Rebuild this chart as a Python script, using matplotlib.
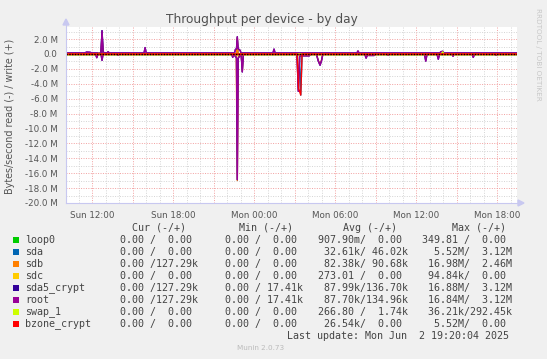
import matplotlib
matplotlib.use('Agg')
import matplotlib.pyplot as plt
from matplotlib.patches import Rectangle, Polygon
import numpy as np

W, H = 547, 359
T0, T1 = 10.07, 43.48   # hours since Sun 00:00

# ---- data (MB/s), hours since Sun 00:00; read is drawn negative ----
names = ['loop0', 'sda', 'sdb', 'sdc', 'sda5_crypt', 'root', 'swap_1', 'bzone_crypt']
colors = ['#00CC00', '#0066B3', '#FF8000', '#FFCC00', '#330099', '#990099', '#CCFF00', '#FF0000']

loop0_w_t, loop0_w = [], []
loop0_r_t, loop0_r = [], []

sda_w_t = [12.66, 12.74, 12.82, 22.7, 22.76, 22.82]
sda_w = [0.0, 3.12, 0.0, 0.0, 1.2, 0.0]
sda_r_t = [27.36, 27.46, 27.56]
sda_r = [0.0, 5.52, 0.0]

sdb_w_t = [12.66, 12.74, 12.82, 22.7, 22.76, 22.82]
sdb_w = [0.05, 2.46, 0.05, 0.05, 2.2, 0.05]
sdb_r_t = [22.68, 22.76, 22.84, 23.05, 23.13, 23.21, 27.18, 27.28, 27.38,
           28.62, 28.75, 28.89, 29.0, 29.1]
sdb_r = [0.0, 16.98, 0.0, 0.0, 2.3, 0.0, 0.0, 4.8, 0.0,
         0.0, 0.8, 1.4, 0.8, 0.0]

sdc_w_t, sdc_w = [], []
sdc_r_t = [36.64, 36.72, 36.8]
sdc_r = [0.0, 0.09, 0.0]

root_base_w = 0.13
root_w_t = [11.45, 11.6, 11.85, 12.0, 12.66, 12.74, 12.82, 13.1, 13.19, 13.28,
            15.85, 15.93, 16.01, 22.55, 22.62, 22.7, 22.76, 22.82, 22.96, 23.04,
            25.4, 25.48, 25.56, 31.62, 31.7, 31.78, 37.75, 37.85, 37.98, 38.06]
root_w = [0.13, 0.25, 0.22, 0.13, 0.13, 3.12, 0.2, 0.13, 0.3, 0.13,
          0.13, 0.85, 0.13, 0.13, 0.6, 0.7, 2.3, 0.7, 0.5, 0.13,
          0.13, 0.65, 0.13, 0.13, 0.4, 0.13, 0.13, 0.3, 0.35, 0.13]
root_r_t = [12.25, 12.35, 12.45, 12.66, 12.74, 12.82, 13.85, 13.93, 14.01,
            22.34, 22.42, 22.5, 22.6, 22.7, 22.76, 22.82, 22.96, 23.05, 23.13, 23.21,
            27.18, 27.28, 27.38, 27.5, 28.1, 28.18, 28.62, 28.75, 28.89, 29.0, 29.1,
            32.2, 32.3, 32.4, 32.5, 32.9, 33.0, 33.85, 33.93, 34.01,
            36.62, 36.72, 36.82, 37.55, 37.65, 37.75, 38.66, 38.74, 38.82,
            40.14, 40.24, 40.34, 41.85, 41.93, 42.01]
root_r = [0.0, 0.5, 0.0, 0.0, 0.85, 0.0, 0.0, 0.15, 0.0,
          0.0, 0.45, 0.0, 0.3, 0.5, 16.84, 0.6, 0.2, 0.2, 2.4, 0.0,
          0.0, 5.0, 0.3, 0.25, 0.25, 0.0, 0.0, 0.9, 1.5, 0.9, 0.0,
          0.0, 0.55, 0.15, 0.2, 0.2, 0.0, 0.0, 0.15, 0.0,
          0.0, 0.95, 0.0, 0.0, 0.7, 0.0, 0.0, 0.3, 0.0,
          0.0, 0.45, 0.0, 0.0, 0.15, 0.0]

sda5_w_t = root_w_t
sda5_w = [0.14, 0.26, 0.23, 0.14, 0.14, 3.12, 0.21, 0.14, 0.31, 0.14,
          0.14, 0.86, 0.14, 0.14, 0.61, 0.71, 2.32, 0.71, 0.51, 0.14,
          0.14, 0.66, 0.14, 0.14, 0.41, 0.14, 0.14, 0.31, 0.36, 0.14]
sda5_r_t = root_r_t
sda5_r = [0.0, 0.5, 0.0, 0.0, 0.86, 0.0, 0.0, 0.15, 0.0,
          0.0, 0.46, 0.0, 0.3, 0.5, 16.88, 0.6, 0.2, 0.2, 2.42, 0.0,
          0.0, 5.02, 0.3, 0.25, 0.25, 0.0, 0.0, 0.9, 1.52, 0.9, 0.0,
          0.0, 0.56, 0.15, 0.2, 0.2, 0.0, 0.0, 0.15, 0.0,
          0.0, 0.96, 0.0, 0.0, 0.71, 0.0, 0.0, 0.3, 0.0,
          0.0, 0.46, 0.0, 0.0, 0.15, 0.0]

swap_w_t = [12.42, 12.5, 12.58, 37.9, 37.98, 38.06]
swap_w = [0.0, 0.1, 0.0, 0.0, 0.29, 0.0]
swap_r_t, swap_r = [], []

bzone_w_t, bzone_w = [], []
bzone_r_t = [27.2, 27.3, 27.46, 27.56]
bzone_r = [0.0, 4.6, 5.52, 0.0]

series = [
    (loop0_w_t, loop0_w, loop0_r_t, loop0_r, 0.0),
    (sda_w_t, sda_w, sda_r_t, sda_r, 0.0),
    (sdb_w_t, sdb_w, sdb_r_t, sdb_r, 0.05),
    (sdc_w_t, sdc_w, sdc_r_t, sdc_r, 0.0),
    (sda5_w_t, sda5_w, sda5_r_t, sda5_r, 0.14),
    (root_w_t, root_w, root_r_t, root_r, root_base_w),
    (swap_w_t, swap_w, swap_r_t, swap_r, 0.0),
    (bzone_w_t, bzone_w, bzone_r_t, bzone_r, 0.0),
]

cur = ['  0.00 /  0.00 ', '  0.00 /  0.00 ', '  0.00 /127.29k', '  0.00 /  0.00 ',
       '  0.00 /127.29k', '  0.00 /127.29k', '  0.00 /  0.00 ', '  0.00 /  0.00 ']
mins = ['  0.00 /  0.00 ', '  0.00 /  0.00 ', '  0.00 /  0.00 ', '  0.00 /  0.00 ',
        '  0.00 / 17.41k', '  0.00 / 17.41k', '  0.00 /  0.00 ', '  0.00 /  0.00 ']
avgs = ['907.90m/  0.00 ', ' 32.61k/ 46.02k', ' 82.38k/ 90.68k', '273.01 /  0.00 ',
        ' 87.99k/136.70k', ' 87.70k/134.96k', '266.80 /  1.74k', ' 26.54k/  0.00 ']
maxs = ['349.81 /  0.00 ', '  5.52M/  3.12M', ' 16.98M/  2.46M', ' 94.84k/  0.00 ',
        ' 16.88M/  3.12M', ' 16.84M/  3.12M', ' 36.21k/292.45k', '  5.52M/  0.00 ']

x_ticks = [12, 18, 24, 30, 36, 42]
x_labels = ['Sun 12:00', 'Sun 18:00', 'Mon 00:00', 'Mon 06:00', 'Mon 12:00', 'Mon 18:00']


def px(x, y):
    return x / W, 1 - y / H


fig = plt.figure(figsize=(W / 100, H / 100), dpi=100, facecolor='#F0F0F0')
ax = fig.add_axes([66 / W, 1 - 203 / H, (517 - 66) / W, (203 - 27) / H])
ax.set_facecolor('white')
ax.set_xlim(T0, T1)
ax.set_ylim(-20, 3.62)

# grid
for h in range(11, 44):
    major = h % 3 == 0
    ax.axvline(h, color='#F2A0A0' if major else '#D4D4D4', lw=0.7,
               dashes=(1, 1.5), zorder=1)
for v in range(-20, 4):
    major = v % 2 == 0
    ax.axhline(v, color='#F2A0A0' if major else '#D4D4D4', lw=0.7,
               dashes=(1, 1.5), zorder=1)

# lines
for (wt, wv, rt, rv, base), c in zip(series, colors):
    xs = [T0] + list(wt) + [T1]
    ys = [base] + list(wv) + [base]
    ax.plot(xs, ys, color=c, lw=1.0, zorder=3)
    xs = [T0] + list(rt) + [T1]
    ys = [0.0] + [-v for v in rv] + [0.0]
    ax.plot(xs, ys, color=c, lw=1.0, zorder=3)

ax.plot([T0, T1], [0, 0], color='black', lw=1.0, dashes=(1, 1), zorder=4)

for s in ax.spines.values():
    s.set_visible(False)
ax.tick_params(length=0, labelsize=6.3, labelcolor='#555555', pad=6)
ax.set_xticks(x_ticks)
ax.set_xticklabels(x_labels)
yt = list(range(-20, 3, 2))
ax.set_yticks(yt)
ax.set_yticklabels(['0.0' if v == 0 else '%.1f M' % v for v in yt])

# axis lines with arrows
fig.add_artist(plt.Line2D([66 / W, 66 / W], [1 - 203 / H, 1 - 24 / H], color='#C8C8F0', lw=0.8))
fig.add_artist(plt.Line2D([66 / W, 519 / W], [1 - 203 / H, 1 - 203 / H], color='#C8C8F0', lw=0.8))
fig.add_artist(Polygon([px(63, 25), px(69, 25), px(66, 19)], closed=True,
                       transform=fig.transFigure, color='#C8C8F0'))
fig.add_artist(Polygon([px(518, 200), px(518, 206), px(524, 203)], closed=True,
                       transform=fig.transFigure, color='#C8C8F0'))

# title and labels
fig.text(*px(262, 20), 'Throughput per device - by day', ha='center', va='center',
         fontsize=8.7, color='#505050')
fig.text(*px(10, 116), 'Bytes/second read (-) / write (+)', ha='center', va='center',
         rotation=90, fontsize=6.9, color='#555555')
fig.text(*px(538, 54), 'RRDTOOL / TOBI OETIKER', ha='center', va='center',
         rotation=270, fontsize=5.2, color='#C8C8C8')

# legend table
mono = dict(family='DejaVu Sans Mono', fontsize=7.2, color='#444444', va='center')
for hx, ht in zip([132, 239, 343, 452], ['Cur (-/+)', 'Min (-/+)', 'Avg (-/+)', 'Max (-/+)']):
    fig.text(*px(hx, 228), ht, ha='left', **mono)
for i, name in enumerate(names):
    y = 240 + 12 * i
    fig.add_artist(Rectangle(px(13, y + 3), 6 / W, 6 / H, transform=fig.transFigure,
                             facecolor=colors[i], edgecolor='none'))
    fig.text(*px(25, y), name, ha='left', **mono)
    fig.text(*px(108, y), cur[i], ha='left', **mono)
    fig.text(*px(213, y), mins[i], ha='left', **mono)
    fig.text(*px(318, y), avgs[i], ha='left', **mono)
    fig.text(*px(422, y), maxs[i], ha='left', **mono)

fig.text(*px(509, 336), 'Last update: Mon Jun  2 19:20:04 2025', ha='right', **mono)
fig.text(*px(261, 348), 'Munin 2.0.73', ha='center', va='center', fontsize=5.2, color='#BBBBBB')

fig.savefig('out.png', dpi=100, facecolor=fig.get_facecolor())
